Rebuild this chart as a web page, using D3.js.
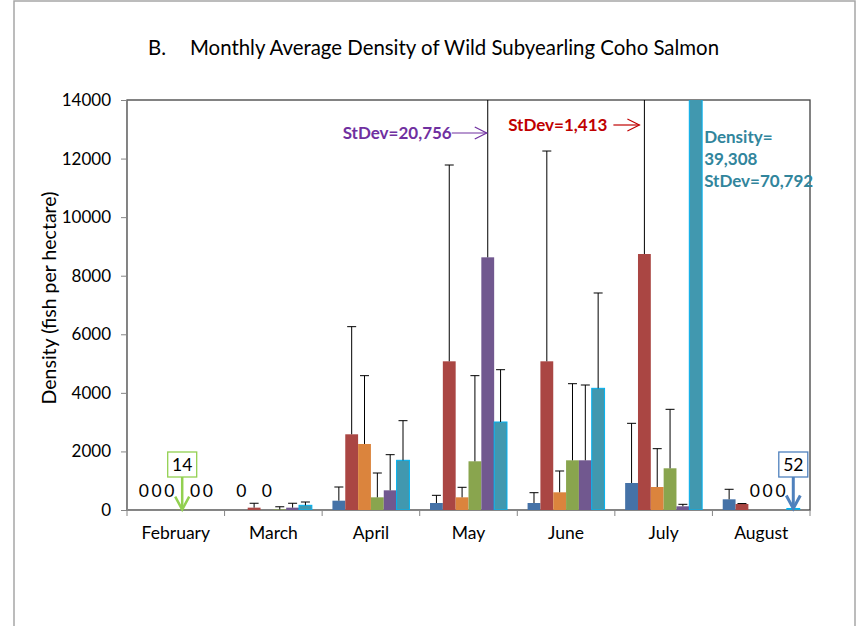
<!DOCTYPE html>
<html>
<head>
<meta charset="utf-8">
<script src="https://cdn.jsdelivr.net/npm/d3@7"></script>
<style>
  body { margin: 0; background: #fff; }
  text { font-family: Lato, "Open Sans", sans-serif; }
</style>
</head>
<body>
<svg id="chart" width="856" height="626"></svg>
<script>
var months = ['February', 'March', 'April', 'May', 'June', 'July', 'August'];
var seriesNames = ['Series 1', 'Series 2', 'Series 3', 'Series 4', 'Series 5', 'Series 6'];
var seriesColors = ['#4572a7', '#aa4643', '#db843d', '#89a54e', '#71588f', '#4198af'];

// monthly mean density (fish per hectare) and standard deviation, per series
var s1Mean = [0, 0, 318, 239, 239, 922, 365];
var s1Sd   = [0, 0, 467, 262, 352, 2038, 342];
var s2Mean = [0, 80, 2585, 5077, 5077, 8741, 205];
var s2Sd   = [0, 150, 3675, 6703, 7181, 14130, 15];   // July bar runs off the top
var s3Mean = [0, 0, 2254, 433, 604, 785, 0];
var s3Sd   = [0, 0, 2333, 342, 728, 1309, 0];
var s4Mean = [14, 20, 433, 1663, 1697, 1424, 0];
var s4Sd   = [0, 90, 830, 2924, 2616, 2014, 0];
var s5Mean = [0, 80, 672, 8628, 1697, 126, 0];
var s5Sd   = [0, 150, 1217, 20756, 2571, 68, 0];
var s6Mean = [0, 160, 1697, 3005, 4155, 39308, 52];
var s6Sd   = [0, 113, 1353, 1786, 3255, 70792, 0];

var yTicks = [0, 2000, 4000, 6000, 8000, 10000, 12000, 14000];

var means = [s1Mean, s2Mean, s3Mean, s4Mean, s5Mean, s6Mean];
var sds = [s1Sd, s2Sd, s3Sd, s4Sd, s5Sd, s6Sd];

var bars = [];
months.forEach(function(m, i) {
  seriesNames.forEach(function(s, j) {
    bars.push({month: m, series: j, value: means[j][i], sd: sds[j][i]});
  });
});

var svg = d3.select('#chart'),
    margin = {top: 100, right: 46, bottom: 116, left: 127},
    width = +svg.attr('width') - margin.left - margin.right,
    height = +svg.attr('height') - margin.top - margin.bottom;

// chart border
svg.append('rect')
  .attr('x', 14).attr('y', 1)
  .attr('width', 841).attr('height', 640)
  .attr('fill', 'none')
  .attr('stroke', '#a6a6a6')
  .attr('stroke-width', 1.5);

svg.append('text')
  .attr('x', 148).attr('y', 55)
  .attr('font-size', 20.4)
  .attr('fill', '#000')
  .text('B.');
svg.append('text')
  .attr('x', 190).attr('y', 55)
  .attr('font-size', 20.4)
  .attr('fill', '#000')
  .text('Monthly Average Density of Wild Subyearling Coho Salmon');

var g = svg.append('g')
  .attr('transform', `translate(${margin.left}, ${margin.top})`);

var x0 = d3.scaleBand().domain(months).range([0, width])
  .paddingInner(0.211).paddingOuter(0.1055);
var x1 = d3.scaleBand().domain(d3.range(seriesNames.length)).range([0, x0.bandwidth()]);
var y = d3.scaleLinear().domain([0, 14000]).range([height, 0]);

g.append('clipPath').attr('id', 'plot-clip')
  .append('rect').attr('width', width).attr('height', height);

// plot frame
g.append('rect')
  .attr('width', width).attr('height', height)
  .attr('fill', 'none')
  .attr('stroke', '#404040')
  .attr('stroke-width', 1.3);

var plot = g.append('g').attr('clip-path', 'url(#plot-clip)');

plot.selectAll('rect.bar')
  .data(bars)
  .enter().append('rect')
    .attr('class', 'bar')
    .attr('x', d => x0(d.month) + x1(d.series))
    .attr('width', x1.bandwidth())
    .attr('y', d => y(d.value))
    .attr('height', d => y(0) - y(d.value))
    .attr('fill', d => seriesColors[d.series])
    .attr('stroke', d => d.series === 5 ? '#00b0f0' : 'none')
    .attr('stroke-width', 1);

var withErr = bars.filter(d => d.sd > 0);
var cx = d => x0(d.month) + x1(d.series) + x1.bandwidth() / 2;

plot.selectAll('line.err')
  .data(withErr)
  .enter().append('line')
    .attr('class', 'err')
    .attr('x1', cx).attr('x2', cx)
    .attr('y1', d => y(d.value))
    .attr('y2', d => y(d.value + d.sd))
    .attr('stroke', '#000')
    .attr('stroke-width', 1);

plot.selectAll('line.cap')
  .data(withErr)
  .enter().append('line')
    .attr('class', 'cap')
    .attr('x1', d => cx(d) - 4.5).attr('x2', d => cx(d) + 4.5)
    .attr('y1', d => y(d.value + d.sd))
    .attr('y2', d => y(d.value + d.sd))
    .attr('stroke', '#000')
    .attr('stroke-width', 1);

// axes
var yAxis = g.append('g')
  .call(d3.axisLeft(y).tickValues(yTicks).tickFormat(d3.format('d'))
    .tickSize(6).tickSizeOuter(0).tickPadding(10));
yAxis.select('.domain').attr('stroke', '#868686');
yAxis.selectAll('.tick line').attr('stroke', '#868686');
yAxis.selectAll('.tick text')
  .attr('font-size', 17)
  .attr('font-family', 'Lato, sans-serif')
  .attr('fill', '#000');

var xAxis = g.append('g')
  .attr('transform', `translate(0, ${height})`)
  .call(d3.axisBottom(x0).tickSize(0).tickPadding(17));
xAxis.select('.domain').attr('stroke', '#868686');
xAxis.selectAll('.tick text')
  .attr('font-size', 17.5)
  .attr('font-family', 'Lato, sans-serif')
  .attr('fill', '#000');

// category boundary ticks
var step = x0.step();
xAxis.selectAll('line.bound')
  .data(d3.range(months.length + 1))
  .enter().append('line')
    .attr('class', 'bound')
    .attr('x1', i => i * step).attr('x2', i => i * step)
    .attr('y1', 0).attr('y2', 6)
    .attr('stroke', '#868686');

g.append('text')
  .attr('transform', `translate(${56 - margin.left}, ${height / 2 - 7}) rotate(-90)`)
  .attr('text-anchor', 'middle')
  .attr('font-size', 19.5)
  .attr('fill', '#000')
  .text('Density (fish per hectare)');

// data labels for zero values
g.selectAll('text.zero')
  .data(bars.filter(d => d.value === 0))
  .enter().append('text')
    .attr('class', 'zero')
    .attr('x', cx)
    .attr('y', y(0) - 13)
    .attr('text-anchor', 'middle')
    .attr('font-size', 17.5)
    .attr('fill', '#000')
    .text(d => d.value);

function arrowDown(sel, xp, y1, y2, color, w) {
  sel.append('line')
    .attr('x1', xp).attr('x2', xp).attr('y1', y1).attr('y2', y2 - 1)
    .attr('stroke', color).attr('stroke-width', w);
  sel.append('path')
    .attr('d', `M${xp - 7},${y2 - 13}L${xp},${y2}L${xp + 7},${y2 - 13}`)
    .attr('fill', 'none').attr('stroke', color).attr('stroke-width', w);
}

function arrowRight(sel, x1p, x2p, yp, color) {
  sel.append('line')
    .attr('x1', x1p).attr('x2', x2p).attr('y1', yp).attr('y2', yp)
    .attr('stroke', color).attr('stroke-width', 1.2);
  sel.append('path')
    .attr('d', `M${x2p - 12},${yp - 6}L${x2p},${yp}L${x2p - 12},${yp + 6}`)
    .attr('fill', 'none').attr('stroke', color).attr('stroke-width', 1.2);
}

// boxed small-value callouts
var callouts = [
  {d: bars.find(b => b.month === 'February' && b.series === 3), color: '#92d050', w: 2.5},
  {d: bars.find(b => b.month === 'August' && b.series === 5), color: '#4f81bd', w: 3}
];
callouts.forEach(function(c) {
  var xp = cx(c.d), bottom = y(0) - 33;
  var box = g.append('g');
  box.append('rect')
    .attr('x', xp - 14.5).attr('y', bottom - 25)
    .attr('width', 29).attr('height', 25)
    .attr('fill', '#fff')
    .attr('stroke', c.color).attr('stroke-width', 1.3);
  box.append('text')
    .attr('x', xp).attr('y', bottom - 6.5)
    .attr('text-anchor', 'middle')
    .attr('font-size', 17.5)
    .attr('fill', '#000')
    .text(c.d.value);
  arrowDown(box, xp, bottom, y(c.d.value), c.color, c.w);
});

// off-scale annotations
var purpleBar = bars.find(b => b.month === 'May' && b.series === 4);
var pTip = cx(purpleBar) - 1;
g.append('text')
  .attr('x', pTip - 35).attr('y', 39)
  .attr('text-anchor', 'end')
  .attr('font-size', 17).attr('font-weight', 'bold')
  .attr('fill', '#7030a0')
  .text('StDev=' + d3.format(',')(purpleBar.sd));
arrowRight(g, pTip - 35, pTip, 33, '#7030a0');

var redBar = bars.find(b => b.month === 'July' && b.series === 1);
var rTip = cx(redBar) - 5;
g.append('text')
  .attr('x', rTip - 32).attr('y', 31)
  .attr('text-anchor', 'end')
  .attr('font-size', 17).attr('font-weight', 'bold')
  .attr('fill', '#c00000')
  .text('StDev=1,413');
arrowRight(g, rTip - 26, rTip, 25, '#c00000');

var tealBar = bars.find(b => b.month === 'July' && b.series === 5);
var tealText = g.append('text')
  .attr('x', x0(tealBar.month) + x1(tealBar.series) + x1.bandwidth() + 2)
  .attr('y', 42.5)
  .attr('font-size', 17).attr('font-weight', 'bold')
  .attr('fill', '#31859c');
['Density=', d3.format(',')(tealBar.value), 'StDev=' + d3.format(',')(tealBar.sd)]
  .forEach(function(t, i) {
    tealText.append('tspan')
      .attr('x', tealText.attr('x'))
      .attr('dy', i === 0 ? 0 : 22)
      .text(t);
  });
</script>
</body>
</html>
